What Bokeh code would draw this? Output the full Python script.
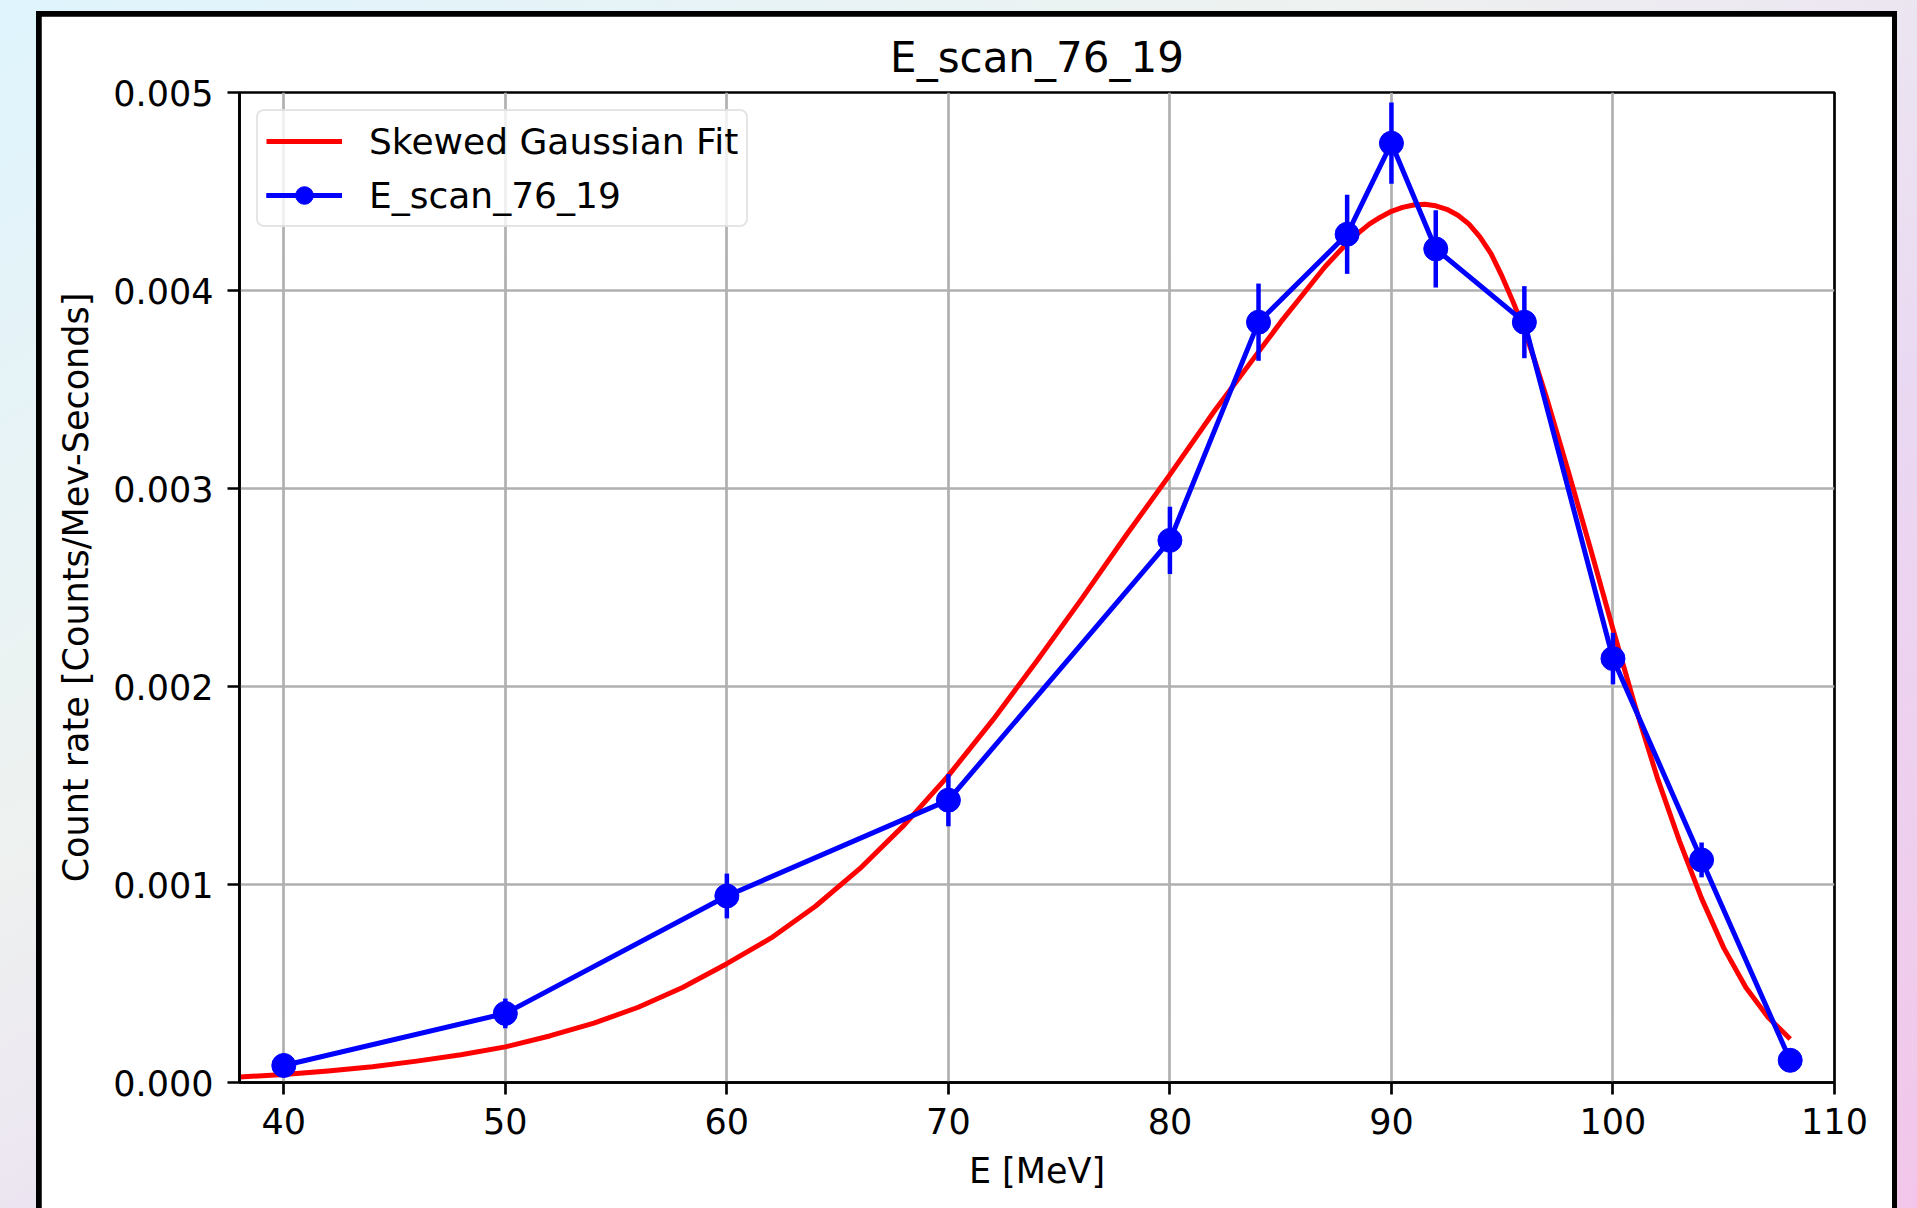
from bokeh.plotting import figure
from bokeh.models import Range1d, NumeralTickFormatter, Legend, LegendItem
from bokeh.layouts import column
from bokeh.embed import file_html
from bokeh.resources import INLINE

# ---- data ----
energy = [40, 50, 60, 70, 80, 84, 88, 90, 92, 96, 100, 104, 108]
rate = [0.000086, 0.000349, 0.000942, 0.001426, 0.002738, 0.003840, 0.004284,
        0.004744, 0.004210, 0.003840, 0.002141, 0.001124, 0.000112]
rate_err = [0.000030, 0.000075, 0.000113, 0.000132, 0.000170, 0.000195, 0.000200,
            0.000205, 0.000195, 0.000182, 0.000130, 0.000088, 0.000030]

fit_energy = [38, 40, 42, 44, 46, 48, 50, 52, 54, 56, 58, 60, 62, 64, 66, 68, 70,
              72, 74, 76, 78, 80, 82, 84, 85, 86, 87, 88, 88.5, 89, 89.5, 90, 90.5,
              91, 91.5, 92, 92.5, 93, 93.5, 94, 94.5, 95, 95.5, 96, 96.5, 97, 98,
              99, 100, 101, 102, 103, 104, 105, 106, 107, 108]
fit_rate = [0.000028, 0.000040, 0.000058, 0.000080, 0.000108, 0.000140, 0.000180,
            0.000235, 0.000300, 0.000380, 0.000480, 0.000600, 0.000730, 0.000890,
            0.001080, 0.001300, 0.001550, 0.001830, 0.002130, 0.002440, 0.002760,
            0.003070, 0.003390, 0.003690, 0.003840, 0.003980, 0.004120, 0.004240,
            0.004290, 0.004335, 0.004370, 0.004400, 0.004420, 0.004432, 0.004436,
            0.004428, 0.004410, 0.004380, 0.004335, 0.004270, 0.004185, 0.004070,
            0.003940, 0.003800, 0.003635, 0.003460, 0.003080, 0.002690, 0.002290,
            0.001900, 0.001540, 0.001220, 0.000930, 0.000680, 0.000480, 0.000330,
            0.000220]

x_ticks = [40, 50, 60, 70, 80, 90, 100, 110]
y_ticks = [0.0, 0.001, 0.002, 0.003, 0.004, 0.005]

FONT = "DejaVu Sans"

p = figure(width=1851, height=1192,
           x_range=Range1d(38, 110), y_range=Range1d(0, 0.005),
           output_backend="svg", toolbar_location=None,
           title="E_scan_76_19",
           min_border_left=198, min_border_right=58,
           min_border_top=76, min_border_bottom=126,
           margin=(5, 5, 0, 5))

p.background_fill_color = "white"
p.border_fill_color = "white"
p.outline_line_color = "black"
p.outline_line_width = 2.7

p.title.text_font = FONT
p.title.text_font_size = "42px"
p.title.text_font_style = "normal"
p.title.text_color = "black"
p.title.align = "center"
p.title.standoff = 22

for ax in (p.xaxis[0], p.yaxis[0]):
    ax.major_label_text_font = FONT
    ax.major_label_text_font_size = "35px"
    ax.major_label_text_color = "black"
    ax.axis_label_text_font = FONT
    ax.axis_label_text_font_size = "35px"
    ax.axis_label_text_font_style = "normal"
    ax.axis_label_text_color = "black"
    ax.axis_line_width = 2.7
    ax.axis_line_color = "black"
    ax.major_tick_line_width = 2.7
    ax.major_tick_line_color = "black"
    ax.major_tick_out = 12
    ax.major_tick_in = 0
    ax.minor_tick_line_color = None

p.xaxis.ticker = x_ticks
p.yaxis.ticker = y_ticks
p.yaxis.formatter = NumeralTickFormatter(format="0.000")
p.xaxis.axis_label = "E [MeV]"
p.yaxis.axis_label = "Count rate [Counts/Mev-Seconds]"
p.xaxis.major_label_standoff = 13
p.xaxis.axis_label_standoff = 14
p.yaxis.major_label_standoff = 14
p.yaxis.axis_label_standoff = 14

p.grid.grid_line_color = "#b0b0b0"
p.grid.grid_line_width = 2.7

fit_r = p.line(fit_energy, fit_rate, line_color="red", line_width=5,
               line_join="round")

err_lo = [r - e for r, e in zip(rate, rate_err)]
err_hi = [r + e for r, e in zip(rate, rate_err)]
err_r = p.segment(x0=energy, y0=err_lo, x1=energy, y1=err_hi,
                  line_color="blue", line_width=4.5)
line_r = p.line(energy, rate, line_color="blue", line_width=5)
pts_r = p.scatter(energy, rate, size=24, fill_color="blue", line_color="blue")

legend = Legend(items=[
    LegendItem(label="Skewed Gaussian Fit", renderers=[fit_r]),
    LegendItem(label="E_scan_76_19", renderers=[line_r, err_r, pts_r]),
], location="top_left")
legend.margin = 17
legend.padding = 8
legend.spacing = 10
legend.glyph_width = 76
legend.glyph_height = 44
legend.label_standoff = 27
legend.label_text_font = FONT
legend.label_text_font_size = "36px"
legend.label_text_color = "black"
legend.border_line_color = "#cccccc"
legend.border_line_width = 2.7
legend.background_fill_color = "white"
legend.background_fill_alpha = 0.8
if "border_radius" in Legend.properties():
    legend.border_radius = 8
p.add_layout(legend, "center")

card = column(p, margin=(11, 0, 0, 36), styles={"background-color": "black"})
page = column(card, width=1917, height=1208, sizing_mode="fixed",
              styles={"background": "linear-gradient(to bottom right, #dff4fd 0%, #eef2f0 35%, #ead9f2 65%, #f2c6ea 100%)"})

open("out.html", "w").write(file_html(page, INLINE))
